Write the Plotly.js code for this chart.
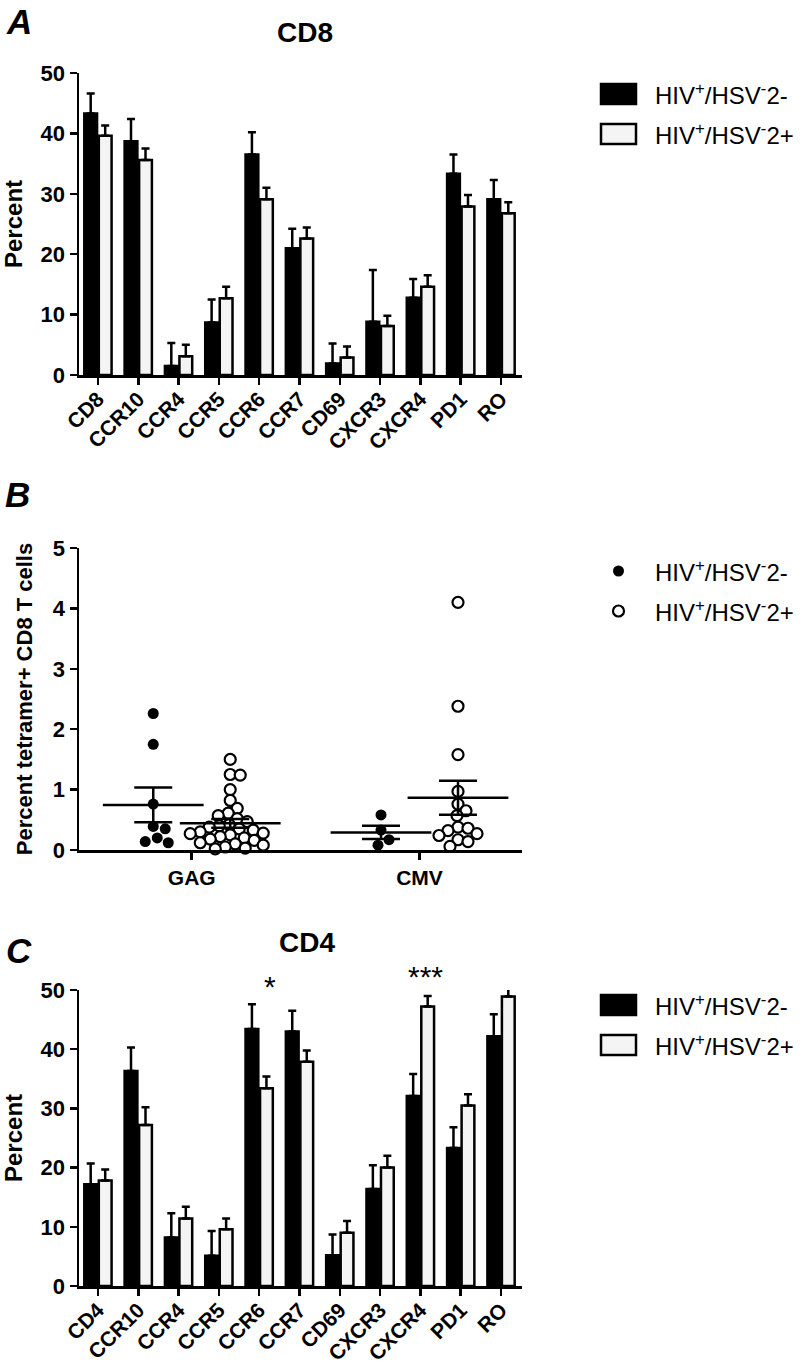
<!DOCTYPE html>
<html lang="en">
<head>
<meta charset="UTF-8">
<title>CD8 / tetramer / CD4 phenotypes by HSV-2 status</title>
<script src="https://cdn.plot.ly/plotly-3.0.1.min.js"></script>
<style>
  html, body { margin: 0; padding: 0; background: #fff; }
  #chart { width: 800px; height: 1366px; }
</style>
</head>
<body>
<div id="chart"></div>
<script>
// Panel A: CD8 T cell markers (percent, mean + SEM)
const cd8Cats = ['CD8', 'CCR10', 'CCR4', 'CCR5', 'CCR6', 'CCR7', 'CD69', 'CXCR3', 'CXCR4', 'PD1', 'RO'];
const cd8Neg = [43.3, 38.7, 1.5, 8.7, 36.5, 21.0, 1.9, 8.8, 12.8, 33.3, 29.1];
const cd8NegSem = [3.3, 3.7, 3.8, 3.8, 3.7, 3.2, 3.3, 8.6, 3.1, 3.2, 3.2];
const cd8Pos = [39.6, 35.6, 3.1, 12.7, 29.1, 22.6, 2.9, 8.1, 14.6, 27.9, 26.8];
const cd8PosSem = [1.7, 1.9, 1.9, 1.9, 1.9, 1.8, 1.8, 1.7, 1.9, 1.9, 1.8];

// Panel B: percent tetramer+ CD8 T cells, individual subjects
const tetCats = ['GAG', 'CMV'];
const gagNeg = [2.26, 1.75, 0.76, 0.39, 0.35, 0.20, 0.12, 0.14];
const gagPos = [1.50, 1.25, 1.24, 1.00, 0.82, 0.69, 0.61, 0.57, 0.52, 0.47, 0.42, 0.40, 0.38, 0.35,
                0.33, 0.30, 0.28, 0.27, 0.25, 0.22, 0.20, 0.18, 0.16, 0.12, 0.10, 0.08, 0.05, 0.03, 0.02];
const cmvNeg = [0.58, 0.33, 0.17, 0.08];
const cmvPos = [4.10, 2.38, 1.58, 0.97, 0.76, 0.65, 0.57, 0.38, 0.36, 0.32, 0.27, 0.24, 0.17, 0.14, 0.06];

// Panel C: CD4 T cell markers
const cd4Cats = ['CD4', 'CCR10', 'CCR4', 'CCR5', 'CCR6', 'CCR7', 'CD69', 'CXCR3', 'CXCR4', 'PD1', 'RO'];
const cd4Neg = [17.2, 36.3, 8.2, 5.1, 43.4, 43.0, 5.2, 16.4, 32.1, 23.3, 42.2];
const cd4NegSem = [3.5, 4.0, 4.1, 4.2, 4.2, 3.5, 3.5, 4.0, 3.7, 3.5, 3.7];
const cd4Pos = [17.8, 27.2, 11.4, 9.6, 33.4, 37.9, 9.0, 20.0, 47.2, 30.5, 48.9];
const cd4PosSem = [1.9, 3.0, 2.0, 1.8, 2.0, 1.9, 2.0, 2.0, 1.8, 1.9, 1.8];

const sigCats = ['CCR6', 'CXCR4'];
const sigText = ['*', '***'];

const negName = 'HIV<sup>+</sup>/HSV<sup>-</sup>2-';
const posName = 'HIV<sup>+</sup>/HSV<sup>-</sup>2+';

const W = 800, H = 1366;
const X = px => px / W;
const Y = px => 1 - px / H;
const FONT = 'Liberation Sans, Arial, sans-serif';
const LW = 2.5;
const lightFill = '#f4f4f4';

// plot area bounds (px)
const left = 79, right = 522;
const domA = [Y(375), Y(73)], domB = [Y(850), Y(548)], domC = [Y(1286), Y(990)];
const rangeBar = [-0.47, 10.52];
const rangeB = [-0.495, 1.45];

function barTraces(cats, neg, negSem, pos, posSem, xa, ya) {
    const common = { type: 'bar', x: cats, xaxis: xa, yaxis: ya, showlegend: false };
    return [
        Object.assign({}, common, {
            name: negName, y: neg,
            marker: { color: '#000', line: { color: '#000', width: LW } },
            error_y: { type: 'data', symmetric: false, array: negSem, arrayminus: negSem.map(() => 0),
                       color: '#000', thickness: LW, width: 4 }
        }),
        Object.assign({}, common, {
            name: posName, y: pos,
            marker: { color: lightFill, line: { color: '#000', width: LW } },
            error_y: { type: 'data', symmetric: false, array: posSem, arrayminus: posSem.map(() => 0),
                       color: '#000', thickness: LW, width: 4 }
        })
    ];
}

// simple beeswarm: spread points sideways (in px) so markers don't overlap too much
const pxPerX = (right - left) / (rangeB[1] - rangeB[0]);
const pxPerY = (850 - 548) / 5;
function swarm(vals, center, diam) {
    const placed = [];
    const xs = new Array(vals.length);
    const order = vals.map((v, i) => i).sort((a, b) => vals[b] - vals[a]);
    order.forEach(i => {
        const py = vals[i] * pxPerY;
        for (let k = 0; k < 600; k++) {
            const off = (k % 2 ? 1 : -1) * Math.ceil(k / 2);
            if (placed.every(p => Math.hypot(p[0] - off, p[1] - py) >= diam)) {
                placed.push([off, py]);
                xs[i] = center + off / pxPerX;
                break;
            }
        }
    });
    return xs;
}

const mean = a => a.reduce((s, v) => s + v, 0) / a.length;
const sem = a => {
    const m = mean(a);
    return Math.sqrt(a.reduce((s, v) => s + (v - m) ** 2, 0) / (a.length - 1)) / Math.sqrt(a.length);
};

const subOff = 0.169;
const groups = [
    { vals: gagNeg, c: 0 - subOff, filled: true },
    { vals: gagPos, c: 0 + subOff, filled: false },
    { vals: cmvNeg, c: 1 - subOff, filled: true },
    { vals: cmvPos, c: 1 + subOff, filled: false }
];

const data = [];
data.push(...barTraces(cd8Cats, cd8Neg, cd8NegSem, cd8Pos, cd8PosSem, 'x', 'y'));
data.push(...barTraces(cd4Cats, cd4Neg, cd4NegSem, cd4Pos, cd4PosSem, 'x3', 'y3'));

groups.forEach(g => {
    data.push({
        type: 'scatter', mode: 'markers', xaxis: 'x2', yaxis: 'y2', showlegend: false,
        name: g.filled ? negName : posName,
        x: swarm(g.vals, g.c, g.filled ? 12 : 10), y: g.vals,
        marker: g.filled
            ? { size: 11, color: '#000', line: { width: 0 } }
            : { size: 11, color: '#fff', line: { color: '#000', width: 2.2 } },
        cliponaxis: false
    });
});
groups.forEach(g => {
    data.push({
        type: 'scatter', mode: 'markers', xaxis: 'x2', yaxis: 'y2', showlegend: false,
        hoverinfo: 'skip',
        x: [g.c], y: [mean(g.vals)],
        marker: { symbol: 'line-ew', size: 72, color: '#000', line: { color: '#000', width: LW } },
        error_y: { type: 'data', array: [sem(g.vals)], color: '#000', thickness: LW, width: 19 }
    });
});

const tickFont = { family: FONT, size: 22, color: '#000', weight: 'bold' };
const axisBase = {
    showline: true, linecolor: '#000', linewidth: LW, mirror: false,
    ticks: 'outside', ticklen: 7, tickwidth: LW, tickcolor: '#000',
    showgrid: false, zeroline: false, tickfont: tickFont, fixedrange: true
};
const titleFont = { family: FONT, size: 24, color: '#000', weight: 'bold' };
const catTickFont = Object.assign({}, tickFont, { size: 21 });

const layout = {
    width: W, height: H,
    margin: { l: 0, r: 0, t: 0, b: 0 },
    paper_bgcolor: '#fff', plot_bgcolor: '#fff',
    barmode: 'group', bargap: 0.28, bargroupgap: 0.12,
    showlegend: false,
    xaxis: Object.assign({}, axisBase, { domain: [X(left), X(right)], anchor: 'y', type: 'category',
        range: rangeBar, tickangle: -45, tickfont: catTickFont, ticklabelstandoff: -6 }),
    yaxis: Object.assign({}, axisBase, { domain: domA, anchor: 'x', range: [0, 50], dtick: 10,
        title: { text: 'Percent', font: titleFont, standoff: 12 } }),
    xaxis2: Object.assign({}, axisBase, { domain: [X(left), X(right)], anchor: 'y2', range: rangeB,
        tickvals: [0, 1], ticktext: tetCats, tickfont: catTickFont }),
    yaxis2: Object.assign({}, axisBase, { domain: domB, anchor: 'x2', range: [0, 5], dtick: 1,
        title: { text: 'Percent tetramer+ CD8 T cells', font: Object.assign({}, titleFont, { size: 22 }), standoff: 14 } }),
    xaxis3: Object.assign({}, axisBase, { domain: [X(left), X(right)], anchor: 'y3', type: 'category',
        range: rangeBar, tickangle: -45, tickfont: catTickFont, ticklabelstandoff: -6 }),
    yaxis3: Object.assign({}, axisBase, { domain: domC, anchor: 'x3', range: [0, 50], dtick: 10,
        title: { text: 'Percent', font: titleFont, standoff: 12 } }),
    shapes: [],
    annotations: []
};

// panel letters and titles
const ann = (x, y, text, size, extra) => Object.assign({
    xref: 'paper', yref: 'paper', x: X(x), y: Y(y), text: text, showarrow: false,
    font: { family: FONT, size: size, color: '#000' }, xanchor: 'center', yanchor: 'middle'
}, extra || {});
layout.annotations.push(
    ann(19, 22, '<b><i>A</i></b>', 35),
    ann(17, 494, '<b><i>B</i></b>', 35),
    ann(19, 950, '<b><i>C</i></b>', 35),
    ann(305, 33, '<b>CD8</b>', 28),
    ann(307, 942, '<b>CD4</b>', 28)
);

// significance marks above panel C bars (x from category, y placed above the axis top)
sigCats.forEach((c, i) => layout.annotations.push({
    xref: 'x3', yref: 'paper', x: c, y: Y(i === 0 ? 986 : 976), text: sigText[i], showarrow: false,
    xshift: i === 0 ? 11 : 5,
    font: { family: FONT, size: 30, color: '#000' }, yanchor: 'middle'
}));

// legends, drawn by hand so swatches match the reference size
function boxLegend(yTop, yBot) {
    [[yTop, '#000', negName], [yBot, lightFill, posName]].forEach(([cy, fill, name]) => {
        layout.shapes.push({ type: 'rect', xref: 'paper', yref: 'paper',
            x0: X(601), x1: X(636), y0: Y(cy - 10), y1: Y(cy + 10),
            fillcolor: fill, line: { color: '#000', width: LW } });
        layout.annotations.push(ann(653, cy, name, 24, { xanchor: 'left' }));
    });
}
boxLegend(94, 134);
boxLegend(1005, 1045);

[[571, '#000', negName], [611, '#fff', posName]].forEach(([cy, fill, name]) => {
    layout.shapes.push({ type: 'circle', xref: 'paper', yref: 'paper',
        x0: X(613), x1: X(624), y0: Y(cy + 5.5), y1: Y(cy - 5.5),
        fillcolor: fill, line: { color: '#000', width: fill === '#000' ? 0 : 2.2 } });
    layout.annotations.push(ann(653, cy, name, 24, { xanchor: 'left' }));
});

Plotly.newPlot('chart', data, layout, { staticPlot: true, displayModeBar: false });
</script>
</body>
</html>
